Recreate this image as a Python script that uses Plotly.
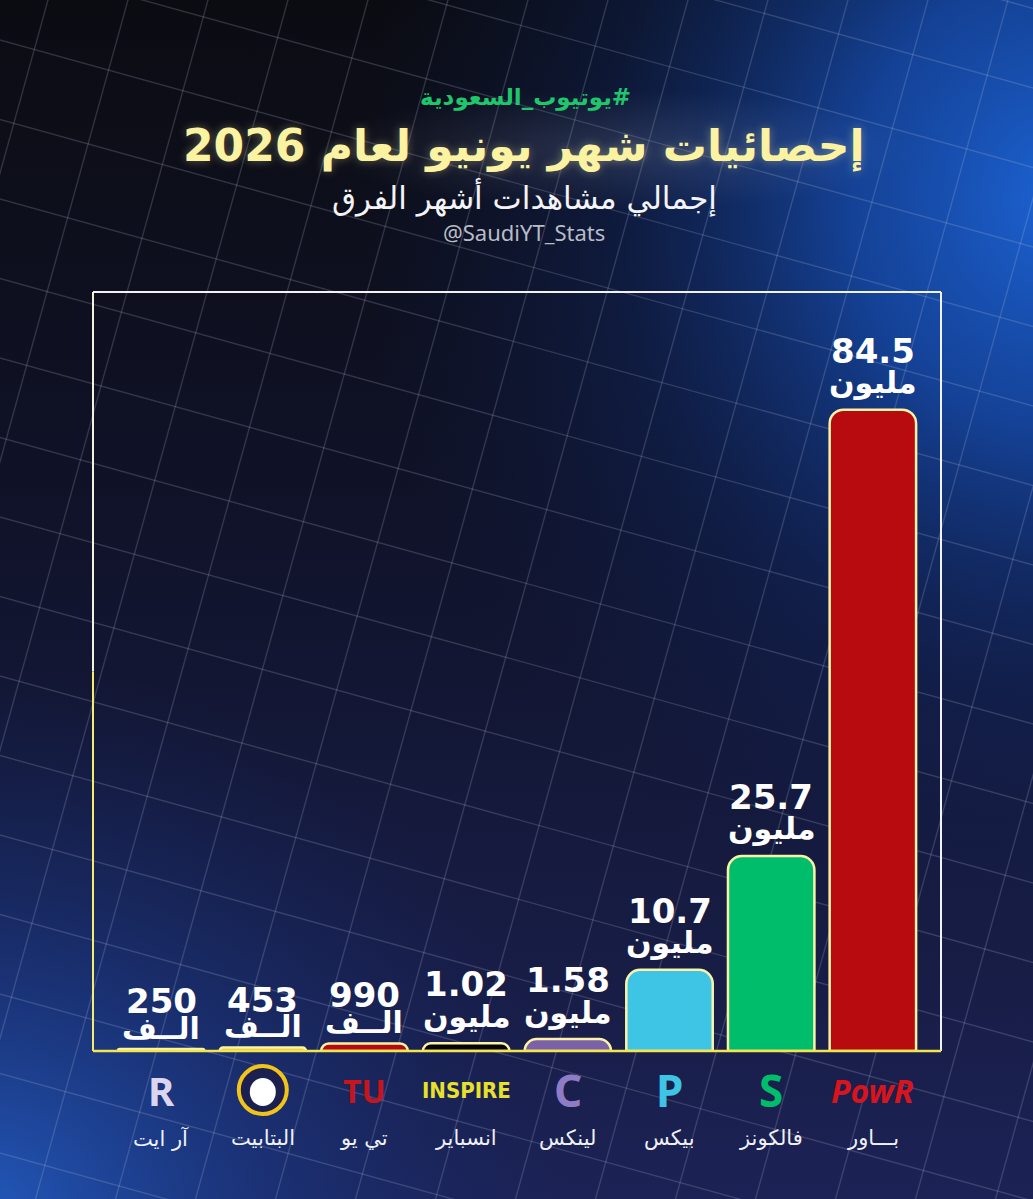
import plotly.graph_objects as go
import math

# ---------------- data ----------------
teams = ["آر ايت", "البتابيت", "تي يو", "انسباير", "لينكس", "بيكس", "فالكونز", "بـــاور"]
views_millions = [0.25, 0.453, 0.99, 1.02, 1.58, 10.7, 25.7, 84.5]
bar_colors = ["#f4f4f8", "#e9b82a", "#b30d12", "#050505", "#7b62a8", "#3ec4e4", "#00bd6b", "#b80b10"]

hashtag = "\u200f#يوتيوب_السعودية"
title = "إحصائيات شهر يونيو لعام 2026"
subtitle = "إجمالي مشاهدات أشهر الفرق"
handle = "@SaudiYT_Stats"
unit_million = "مليون"
unit_thousand = "الــف"

W, H = 1033, 1199
AR = "DejaVu Sans"

fig = go.Figure()

# ---------------- background (pixel-space subplot) ----------------
def rect(x0, y0, x1, y1):
    return [x0, x1, x1, x0, x0], [y0, y0, y1, y1, y0]

bx, by = rect(0, 0, W, H)
fig.add_trace(go.Scatter(x=bx, y=by, fill="toself", mode="lines", line=dict(width=0),
                         fillgradient=dict(type="vertical", start=0, stop=H,
                                           colorscale=[[0, "#0b0c12"], [0.45, "#10132a"], [1, "#1c2255"]]),
                         hoverinfo="skip", showlegend=False))

def glow(cx, cy, rx, ry, scale):
    x, y = rect(cx - rx, cy - ry, cx + rx, cy + ry)
    fig.add_trace(go.Scatter(x=x, y=y, fill="toself", mode="lines", line=dict(width=0),
                             fillgradient=dict(type="radial", colorscale=scale),
                             hoverinfo="skip", showlegend=False))

glow(1060, 200, 700, 760, [[0, "rgba(28,98,210,1)"], [0.3, "rgba(22,78,180,0.8)"],
                           [0.65, "rgba(16,45,115,0.35)"], [1, "rgba(14,30,80,0)"]])
glow(-20, 1220, 600, 560, [[0, "rgba(34,90,190,1)"], [0.5, "rgba(26,62,145,0.5)"],
                           [1, "rgba(20,40,100,0)"]])
glow(620, 150, 300, 60, [[0, "rgba(220,225,255,0.13)"], [1, "rgba(220,225,255,0)"]])

# perspective-ish grid lines
s = math.tan(math.radians(15.5))
gx, gy = [], []
for k in range(-8, 25):
    c = 40 + 79.5 * k
    gx += [-50, W + 50, None]
    gy += [c - 50 * s, c + (W + 50) * s, None]
for k in range(-4, 22):
    d = 128 + 80 * k
    gx += [d + 50 * s, d - (H + 50) * s, None]
    gy += [-50, H + 50, None]
fig.add_trace(go.Scatter(x=gx, y=gy, mode="lines", line=dict(color="rgba(195,200,225,0.20)", width=1.4),
                         hoverinfo="skip", showlegend=False))

# ---------------- bars ----------------
idx = list(range(len(teams)))
fig.add_trace(go.Bar(x=idx, y=views_millions, width=0.85, xaxis="x2", yaxis="y2",
                     marker=dict(color=bar_colors, line=dict(color="#faf3a8", width=2.5), cornerradius=14),
                     hoverinfo="skip", showlegend=False))

annotations = []
for i, v in enumerate(views_millions):
    if v < 1:
        num, unit, ns, us = f"{round(v * 1000)}", unit_thousand, 48, 21
    else:
        num, unit, ns, us = f"{v:g}", unit_million, 59, 27
    annotations.append(dict(x=i, y=v, xref="x2", yref="y2", text=num, showarrow=False,
                            yanchor="middle", yshift=ns,
                            font=dict(family=AR, size=34, color="white", weight="bold")))
    annotations.append(dict(x=i, y=v, xref="x2", yref="y2", text=unit, showarrow=False,
                            yanchor="middle", yshift=us,
                            font=dict(family=AR, size=30, color="white", weight="bold")))
    annotations.append(dict(x=i, y=(H - 1138) / H, xref="x2", yref="paper", text=teams[i], showarrow=False,
                            yanchor="middle", font=dict(family=AR, size=21, color="#eef0f6")))

# pseudo logos
logo_y = (H - 1090) / H
logo_specs = [
    (0, "R", "#dcd5f0", 40, "Noto Sans"),
    (2, "TU", "#c4161c", 32, "Noto Sans"),
    (3, "INSPIRE", "#e8e02a", 22, "DejaVu Sans Condensed"),
    (4, "C", "#8f7cc6", 44, "Noto Sans"),
    (5, "P", "#3ec4e4", 44, "Noto Sans"),
    (6, "S", "#00bd6b", 44, "Noto Sans"),
    (7, "<i>PowR</i>", "#d8141c", 32, "Noto Sans"),
]
for i, t, c, sz, fam in logo_specs:
    annotations.append(dict(x=i, y=logo_y, xref="x2", yref="paper", text=t, showarrow=False,
                            yanchor="middle", font=dict(family=fam, size=sz, color=c, weight="bold")))

shapes = [
    dict(type="circle", xref="x2", yref="paper", xsizemode="pixel", ysizemode="pixel",
         xanchor=1, yanchor=logo_y, x0=-24, x1=24, y0=-24, y1=24,
         fillcolor="#1c2050", line=dict(color="#f2c318", width=4), layer="above"),
    dict(type="circle", xref="x2", yref="paper", xsizemode="pixel", ysizemode="pixel",
         xanchor=1, yanchor=logo_y, x0=-13, x1=13, y0=-16, y1=12,
         fillcolor="#ffffff", line=dict(width=0), layer="above"),
]

# plot frame
L, R, T, B = 93 / W, 941 / W, (H - 292) / H, (H - 1051) / H
shapes += [
    dict(type="line", xref="paper", yref="paper", x0=L, x1=R, y0=T, y1=T, line=dict(color="#f2f2f2", width=2), layer="above"),
    dict(type="line", xref="paper", yref="paper", x0=R, x1=R, y0=T, y1=B, line=dict(color="#f2f2f2", width=2), layer="above"),
    dict(type="line", xref="paper", yref="paper", x0=L, x1=L, y0=T, y1=(T + B) / 2, line=dict(color="#f4f2dc", width=2), layer="above"),
    dict(type="line", xref="paper", yref="paper", x0=L, x1=L, y0=(T + B) / 2, y1=B, line=dict(color="#f5ec6e", width=2), layer="above"),
    dict(type="line", xref="paper", yref="paper", x0=L, x1=R, y0=B, y1=B, line=dict(color="#f4e64a", width=2.5), layer="above"),
]

# header texts
annotations += [
    dict(x=525 / W, y=(H - 97) / H, xref="paper", yref="paper", text=hashtag, showarrow=False, yanchor="middle",
         font=dict(family=AR, size=23, color="#1fc66c", weight="bold")),
    dict(x=524 / W, y=(H - 146) / H, xref="paper", yref="paper", text=title, showarrow=False, yanchor="middle",
         font=dict(family=AR, size=44, color="#fbf2a2", weight="bold",
                   shadow="0px 0px 10px rgba(255,245,170,0.35)")),
    dict(x=524 / W, y=(H - 197) / H, xref="paper", yref="paper", text=subtitle, showarrow=False, yanchor="middle",
         font=dict(family=AR, size=31, color="#f4f4f6")),
    dict(x=524 / W, y=(H - 232) / H, xref="paper", yref="paper", text=handle, showarrow=False, yanchor="middle",
         font=dict(family="Noto Sans", size=22, color="#b9bcc6")),
]

fig.update_layout(
    width=W, height=H, margin=dict(l=0, r=0, t=0, b=0),
    paper_bgcolor="#0e1020", plot_bgcolor="rgba(0,0,0,0)",
    xaxis=dict(domain=[0, 1], range=[0, W], visible=False, fixedrange=True),
    yaxis=dict(domain=[0, 1], range=[H, 0], visible=False, fixedrange=True),
    xaxis2=dict(domain=[L, R], range=[-0.67, 7.67], visible=False, anchor="y2", fixedrange=True),
    yaxis2=dict(domain=[B, T], range=[0, 100], visible=False, anchor="x2", fixedrange=True),
    annotations=annotations, shapes=shapes, showlegend=False, hovermode=False,
)

fig.write_html("out.html")
